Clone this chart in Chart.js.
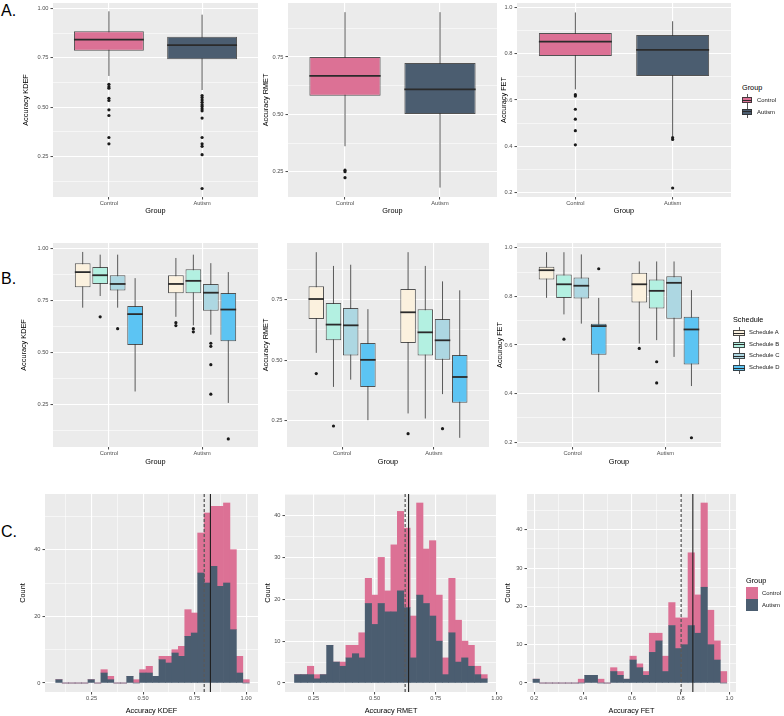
<!DOCTYPE html>
<html>
<head>
<meta charset="utf-8">
<script src="https://cdn.jsdelivr.net/npm/chart.js@4.4.1/dist/chart.umd.min.js"></script>
<style>
html,body{margin:0;padding:0;background:#fff;width:784px;height:716px;overflow:hidden;position:relative;font-family:"Liberation Sans",Arial,Helvetica,sans-serif;}
canvas{position:absolute;}
.t{position:absolute;white-space:nowrap;}
.letter{font-size:16px;line-height:16px;color:#000;}
.lt{font-size:7.3px;line-height:9px;color:#000;}
.ll{font-size:5.9px;color:#1a1a1a;}
.bk{position:absolute;}
.bk .w{position:absolute;width:1px;background:#595959;top:0;bottom:0;}
.bk .b{position:absolute;left:0;right:0;border:1px solid rgba(45,45,45,0.85);}
.bk .m{position:absolute;left:0;right:0;height:1px;background:#2b2b2b;}
.sq{position:absolute;width:12px;height:12px;}
</style>
</head>
<body>
<script>
// ---------------- DATA ----------------
const groups = ['Control', 'Autism'];
const schedules = ['Schedule A', 'Schedule B', 'Schedule C', 'Schedule D'];

// Box statistics: [lower whisker, Q1, median, Q3, upper whisker]
// Panel A (by group)
const kdefControlBox = [0.658, 0.785, 0.842, 0.884, 0.985];
const kdefAutismBox  = [0.587, 0.742, 0.814, 0.856, 0.968];
const kdefControlOut = [0.616, 0.604, 0.596, 0.545, 0.534, 0.487, 0.458, 0.347, 0.315];
const kdefAutismOut  = [0.559, 0.549, 0.537, 0.525, 0.513, 0.503, 0.492, 0.482, 0.445, 0.347, 0.315, 0.302, 0.26, 0.089];

const rmetControlBox = [0.361, 0.581, 0.668, 0.750, 0.945];
const rmetAutismBox  = [0.181, 0.501, 0.609, 0.724, 0.945];
const rmetControlOut = [0.257, 0.250, 0.224];
const rmetAutismOut  = [];

const fetControlBox = [0.646, 0.791, 0.853, 0.890, 0.979];
const fetAutismBox  = [0.443, 0.704, 0.817, 0.881, 0.941];
const fetControlOut = [0.623, 0.617, 0.560, 0.517, 0.467, 0.406];
const fetAutismOut  = [0.437, 0.429, 0.219];

// Panel B (by schedule A..D, per group)
const kdefSchedControlBox = [[0.716, 0.814, 0.887, 0.930, 0.984], [0.772, 0.830, 0.872, 0.911, 0.971], [0.716, 0.798, 0.830, 0.872, 0.971], [0.313, 0.536, 0.685, 0.724, 0.858]];
const kdefSchedAutismBox  = [[0.672, 0.785, 0.830, 0.872, 0.955], [0.631, 0.785, 0.845, 0.901, 0.971], [0.586, 0.701, 0.788, 0.830, 0.930], [0.258, 0.554, 0.707, 0.787, 0.887]];
const kdefSchedControlOut = [[], [0.672], [0.615], []];
const kdefSchedAutismOut  = [[0.644, 0.630], [0.615, 0.600], [0.545, 0.530, 0.442, 0.300], [0.085]];

const rmetSchedControlBox = [[0.530, 0.670, 0.753, 0.806, 0.947], [0.389, 0.582, 0.647, 0.736, 0.890], [0.419, 0.519, 0.644, 0.716, 0.895], [0.251, 0.389, 0.501, 0.571, 0.711]];
const rmetSchedAutismBox  = [[0.279, 0.571, 0.698, 0.794, 0.947], [0.258, 0.519, 0.615, 0.711, 0.890], [0.359, 0.501, 0.582, 0.670, 0.826], [0.178, 0.323, 0.430, 0.521, 0.789]];
const rmetSchedControlOut = [[0.444], [0.227], [], []];
const rmetSchedAutismOut  = [[0.195], [], [0.216], []];

const fetSchedControlBox = [[0.794, 0.870, 0.908, 0.922, 0.982], [0.726, 0.794, 0.850, 0.890, 0.982], [0.688, 0.791, 0.844, 0.878, 0.973], [0.406, 0.560, 0.678, 0.688, 0.794]];
const fetSchedAutismBox  = [[0.606, 0.775, 0.850, 0.897, 0.944], [0.620, 0.750, 0.823, 0.870, 0.944], [0.551, 0.708, 0.856, 0.883, 0.944], [0.431, 0.520, 0.664, 0.716, 0.826]];
const fetSchedControlOut = [[], [0.624], [], [0.914]];
const fetSchedAutismOut  = [[0.586], [0.531, 0.444], [], [0.218]];

// Panel C histograms (30 bins; first and last bin centres)
const kdefBinRange = [0.0917, 1.0];
const kdefAutismCounts  = [1,0,0,0,0,1,0,3,1,0,0,2,0,3,3,2,7,6,9,8,14,15,33,30,35,29,30,16,3,0];
const kdefControlCounts = [0,0,0,0,0,0,0,1,1,0,0,0,1,1,2,0,1,2,1,3,8,6,12,21,18,24,24,24,5,1];
const kdefMeans = {control: 0.827, autism: 0.797};

const rmetBinRange = [0.185, 0.948];
const rmetAutismCounts  = [2,2,2,1,2,9,5,4,6,7,6,19,14,19,17,17,22,18,6,21,19,16,10,2,12,5,6,4,2,1];
const rmetControlCounts = [0,0,2,1,0,0,0,1,3,2,6,6,7,11,5,16,19,19,10,22,13,18,11,4,13,10,4,5,2,1];
const rmetMeans = {control: 0.639, autism: 0.625};

const fetBinRange = [0.2078, 0.976];
const fetAutismCounts  = [1,0,0,0,0,0,0,0,2,2,0,0,3,2,1,6,4,2,8,11,3,15,9,10,15,13,25,10,6,0];
const fetControlCounts = [0,0,0,0,0,0,0,1,0,0,1,0,1,1,0,1,1,1,5,2,4,6,8,7,19,10,22,9,5,3];
const fetMeans = {control: 0.850, autism: 0.802};

// Axis ticks
const kdefTicks = [0.25, 0.50, 0.75, 1.00];
const kdefMinor = [0.125, 0.375, 0.625, 0.875];
const rmetTicks = [0.25, 0.50, 0.75, 1.00];
const rmetMinor = [0.125, 0.375, 0.625, 0.875];
const fetTicks  = [0.2, 0.4, 0.6, 0.8, 1.0];
const fetMinor  = [0.3, 0.5, 0.7, 0.9];
const countTicks20 = [0, 20, 40];
const countMinor20 = [10, 30, 50];
const countTicks10 = [0, 10, 20, 30, 40];
const countMinor10 = [5, 15, 25, 35, 45];

// ---------------- STYLE ----------------
const COL_CONTROL = '#DC7195';
const COL_AUTISM = '#4B5D70';
const SCHED_COLORS = ['#FBF1DE', '#B3F0E1', '#ADD7E2', '#5CC4F3'];
const TICK_FONT = {size: 5.7};
const TITLE_FONT = {size: 7.3};
const TICK_COLOR = '#4D4D4D';

Chart.defaults.font.family = '"Liberation Sans", Arial, Helvetica, sans-serif';

const bgPlugin = {
  id: 'panelBg',
  beforeDraw(chart) {
    const {ctx, chartArea: a} = chart;
    ctx.save();
    ctx.fillStyle = '#EBEBEB';
    ctx.fillRect(a.left, a.top, a.right - a.left, a.bottom - a.top);
    ctx.restore();
  }
};

function withTicks(major, minor, lo, hi) {
  return function (scale) {
    const t = [];
    major.forEach(v => { if (v >= lo - 1e-9 && v <= hi + 1e-9) t.push({value: v}); });
    minor.forEach(v => { if (v >= lo && v <= hi) t.push({value: v, minor: true}); });
    t.sort((a, b) => a.value - b.value);
    scale.ticks = t;
  };
}

function gridCfg() {
  return {
    color: '#FFFFFF',
    lineWidth: c => (c.tick && c.tick.minor) ? 0.55 : 1.1,
    drawTicks: true,
    tickLength: 2.5,
    tickWidth: 0.9,
    tickColor: c => (c.tick && c.tick.minor) ? 'rgba(0,0,0,0)' : '#333333',
    offset: false
  };
}

function valueAxis(opts, width) {
  return {
    type: 'linear', position: 'left', min: opts.min, max: opts.max, beginAtZero: false,
    afterBuildTicks: withTicks(opts.major, opts.minor, opts.min, opts.max),
    afterFit: s => { s.width = width; },
    grid: gridCfg(), border: {display: false},
    ticks: {autoSkip: false, padding: 2, color: TICK_COLOR, font: TICK_FONT,
      callback: (v, i, ts) => (ts[i] && ts[i].minor) ? '' : v.toFixed(opts.dec)},
    title: {display: true, text: opts.title, color: '#000', font: TITLE_FONT, padding: 0}
  };
}

function groupAxis(height) {
  return {
    type: 'linear', position: 'bottom', min: 0.4, max: 2.6, offset: false, beginAtZero: false,
    afterBuildTicks: s => { s.ticks = groups.map((g, i) => ({value: i + 1})); },
    afterFit: s => { s.height = height; },
    grid: gridCfg(), border: {display: false},
    ticks: {autoSkip: false, maxRotation: 0, minRotation: 0, padding: 0.5, color: TICK_COLOR, font: TICK_FONT,
      callback: (v, i) => groups[i]},
    title: {display: true, text: 'Group', color: '#000', font: TITLE_FONT, padding: 0}
  };
}

function numAxis(opts, height) {
  return {
    type: 'linear', position: 'bottom', min: opts.min, max: opts.max, offset: false, beginAtZero: false, stacked: true,
    afterBuildTicks: withTicks(opts.major, opts.minor, opts.min, opts.max),
    afterFit: s => { s.height = height; },
    grid: gridCfg(), border: {display: false},
    ticks: {autoSkip: false, maxRotation: 0, minRotation: 0, padding: 0.5, color: TICK_COLOR, font: TICK_FONT,
      callback: (v, i, ts) => (ts[i] && ts[i].minor) ? '' : v.toFixed(opts.dec)},
    title: {display: true, text: opts.title, color: '#000', font: TITLE_FONT, padding: 0}
  };
}

function makeCanvas(box) {
  const c = document.createElement('canvas');
  c.width = box.cr - box.cl;
  c.height = box.cb - box.ct;
  c.style.left = box.cl + 'px';
  c.style.top = box.ct + 'px';
  c.style.width = c.width + 'px';
  c.style.height = c.height + 'px';
  document.body.appendChild(c);
  return c;
}

function baseOptions(box) {
  return {
    responsive: false, animation: false, devicePixelRatio: 1, events: [],
    layout: {padding: {left: 0, top: box.pt - box.ct, right: box.cr - box.pr, bottom: 0}},
    plugins: {legend: {display: false}, tooltip: {enabled: false}}
  };
}

// series: [{colors, boxes:[perGroup], outs:[perGroup]}]
function boxChart(box, series, yOpts) {
  const S = series.length;
  const dodge = 0.75;
  const boxW = S === 1 ? 0.75 : dodge / S * 0.9;
  const pos = (s, g) => g + 1 + (S === 1 ? 0 : (s - (S - 1) / 2) * dodge / S);
  const halfW = c => {
    const x = c.chart.scales.x;
    return Math.abs(x.getPixelForValue(boxW) - x.getPixelForValue(0)) / 2;
  };
  const outDs = [], medDs = [], boxDs = [], whiDs = [];
  series.forEach((ser, s) => {
    const pts = [];
    ser.outs.forEach((arr, g) => arr.forEach(v => pts.push({x: pos(s, g), y: v})));
    outDs.push({type: 'scatter', data: pts, pointRadius: 1.6, pointBackgroundColor: '#1a1a1a', pointBorderWidth: 0, pointBorderColor: '#1a1a1a'});
    medDs.push({type: 'scatter', data: ser.boxes.map((b, g) => ({x: pos(s, g), y: b[2]})),
      pointStyle: 'line', pointRadius: halfW, pointBorderColor: '#2b2b2b', pointBackgroundColor: '#2b2b2b', pointBorderWidth: 1.8});
    boxDs.push({type: 'bar', data: ser.boxes.map((b, g) => ({x: pos(s, g), y: [b[1], b[3]]})),
      backgroundColor: ser.colors, borderColor: 'rgba(45,45,45,0.8)', borderWidth: 1, borderSkipped: false,
      grouped: false, categoryPercentage: 1, barPercentage: S === 1 ? 0.75 : 0.9});
    ser.boxes.forEach((b, g) => whiDs.push({type: 'scatter', showLine: true,
      data: [{x: pos(s, g), y: b[0]}, {x: pos(s, g), y: b[4]}], pointRadius: 0, borderColor: '#595959', borderWidth: 1}));
  });
  new Chart(makeCanvas(box), {
    type: 'bar',
    data: {datasets: [...outDs, ...medDs, ...boxDs, ...whiDs]},
    options: Object.assign(baseOptions(box), {
      scales: {x: groupAxis(box.cb - box.pb), y: valueAxis(yOpts, box.pl - box.cl)}
    }),
    plugins: [bgPlugin]
  });
}

function histChart(box, binRange, autism, control, means, xOpts, yOpts) {
  const n = autism.length;
  const w = (binRange[1] - binRange[0]) / (n - 1);
  const centers = autism.map((_, i) => binRange[0] + i * w);
  const datasets = [
    {type: 'scatter', showLine: true, stack: 'meanA', data: [{x: means.autism, y: yOpts.min}, {x: means.autism, y: yOpts.max}],
      pointRadius: 0, borderColor: '#5a5a5a', borderWidth: 1.3, borderDash: [3, 2]},
    {type: 'scatter', showLine: true, stack: 'meanC', data: [{x: means.control, y: yOpts.min}, {x: means.control, y: yOpts.max}],
      pointRadius: 0, borderColor: '#1f1f1f', borderWidth: 1.1},
    {type: 'bar', label: 'Autism', stack: 'h', data: centers.map((x, i) => ({x: x, y: autism[i]})),
      backgroundColor: COL_AUTISM, borderWidth: 0, categoryPercentage: 1, barPercentage: 1},
    {type: 'bar', label: 'Control', stack: 'h', data: centers.map((x, i) => ({x: x, y: control[i]})),
      backgroundColor: COL_CONTROL, borderWidth: 0, categoryPercentage: 1, barPercentage: 1}
  ];
  const yAx = valueAxis(yOpts, box.pl - box.cl);
  yAx.stacked = true;
  yAx.ticks.callback = (v, i, ts) => (ts[i] && ts[i].minor) ? '' : String(v);
  new Chart(makeCanvas(box), {
    type: 'bar',
    data: {datasets: datasets},
    options: Object.assign(baseOptions(box), {
      scales: {x: numAxis(xOpts, box.cb - box.pb), y: yAx}
    }),
    plugins: [bgPlugin]
  });
}

// ---------------- LAYOUT ----------------
const rowA = {ct: -6, pt: 3, pb: 197, cb: 215};
const rowB = {ct: 235, pt: 243, pb: 447, cb: 466};
const rowC = {ct: 486, pt: 494, pb: 692, cb: 715};
const P = (row, cl, pl, pr, cr) => Object.assign({cl, pl, pr, cr}, row);

const kdefY = {min: 0.046, max: 1.027, major: kdefTicks, minor: kdefMinor, dec: 2, title: 'Accuracy KDEF'};
const rmetY = {min: 0.14, max: 0.985, major: rmetTicks, minor: rmetMinor, dec: 2, title: 'Accuracy RMET'};
const fetY  = {min: 0.18, max: 1.02, major: fetTicks, minor: fetMinor, dec: 1, title: 'Accuracy FET'};

// Row A
boxChart(P(rowA, 22, 53, 258, 262), [{colors: [COL_CONTROL, COL_AUTISM], boxes: [kdefControlBox, kdefAutismBox], outs: [kdefControlOut, kdefAutismOut]}], kdefY);
boxChart(P(rowA, 262, 288, 497, 501), [{colors: [COL_CONTROL, COL_AUTISM], boxes: [rmetControlBox, rmetAutismBox], outs: [rmetControlOut, rmetAutismOut]}], rmetY);
boxChart(P(rowA, 500, 517, 731, 735), [{colors: [COL_CONTROL, COL_AUTISM], boxes: [fetControlBox, fetAutismBox], outs: [fetControlOut, fetAutismOut]}], fetY);

// Row B
function schedSeries(ctrlBox, autBox, ctrlOut, autOut) {
  return schedules.map((s, k) => ({colors: SCHED_COLORS[k], boxes: [ctrlBox[k], autBox[k]], outs: [ctrlOut[k], autOut[k]]}));
}
boxChart(P(rowB, 20, 53, 258, 262), schedSeries(kdefSchedControlBox, kdefSchedAutismBox, kdefSchedControlOut, kdefSchedAutismOut), kdefY);
boxChart(P(rowB, 262, 287, 489, 493), schedSeries(rmetSchedControlBox, rmetSchedAutismBox, rmetSchedControlOut, rmetSchedAutismOut), rmetY);
boxChart(P(rowB, 496, 517, 721, 725), schedSeries(fetSchedControlBox, fetSchedAutismBox, fetSchedControlOut, fetSchedAutismOut), fetY);

// Row C
histChart(P(rowC, 19, 45, 258, 262), kdefBinRange, kdefAutismCounts, kdefControlCounts, kdefMeans,
  {min: 0.024, max: 1.058, major: kdefTicks, minor: kdefMinor, dec: 2, title: 'Accuracy KDEF'},
  {min: -2.7, max: 56.7, major: countTicks20, minor: countMinor20, dec: 0, title: 'Count'});
histChart(P(rowC, 264, 285, 497, 505), rmetBinRange, rmetAutismCounts, rmetControlCounts, rmetMeans,
  {min: 0.133, max: 1.001, major: rmetTicks, minor: rmetMinor, dec: 2, title: 'Accuracy RMET'},
  {min: -2.15, max: 45.15, major: countTicks10, minor: countMinor10, dec: 0, title: 'Count'});
histChart(P(rowC, 504, 527, 736, 742), fetBinRange, fetAutismCounts, fetControlCounts, fetMeans,
  {min: 0.17, max: 1.027, major: fetTicks, minor: fetMinor, dec: 1, title: 'Accuracy FET'},
  {min: -2.35, max: 49.35, major: countTicks10, minor: countMinor10, dec: 0, title: 'Count'});

// ---------------- TEXT / LEGENDS ----------------
function addText(cls, text, left, top, extra) {
  const d = document.createElement('div');
  d.className = 't ' + cls;
  d.textContent = text;
  d.style.left = left + 'px';
  d.style.top = top + 'px';
  if (extra) Object.assign(d.style, extra);
  document.body.appendChild(d);
  return d;
}
function boxKey(left, top, w, h, color) {
  const k = document.createElement('div');
  k.className = 'bk';
  Object.assign(k.style, {left: left + 'px', top: top + 'px', width: w + 'px', height: h + 'px'});
  const wl = document.createElement('div'); wl.className = 'w'; wl.style.left = (w / 2 - 0.5) + 'px';
  const b = document.createElement('div'); b.className = 'b';
  Object.assign(b.style, {top: Math.round(h * 0.25) + 'px', height: (Math.round(h * 0.5) - 2) + 'px', background: color});
  const m = document.createElement('div'); m.className = 'm'; m.style.top = (Math.round(h / 2) - 0.5) + 'px';
  k.appendChild(wl); k.appendChild(b); k.appendChild(m);
  document.body.appendChild(k);
}

addText('letter', 'A.', 1, 2.5);
addText('letter', 'B.', 1, 270.5);
addText('letter', 'C.', 1, 524);

// Legend A
addText('lt', 'Group', 742, 82.5);
[[COL_CONTROL, 94], [COL_AUTISM, 105.5]].forEach((e, i) => {
  boxKey(742, e[1], 10, 12, e[0]);
  addText('ll', groups[i], 757, e[1], {lineHeight: '12px'});
});

// Legend B
addText('lt', 'Schedule', 733, 314.5);
[327, 338.5, 350, 362].forEach((top, i) => {
  boxKey(733, top, 12, 11.5, SCHED_COLORS[i]);
  addText('ll', schedules[i], 749, top, {lineHeight: '11.5px'});
});

// Legend C
addText('lt', 'Group', 746, 576);
[[COL_CONTROL, 587], [COL_AUTISM, 599]].forEach((e, i) => {
  const s = document.createElement('div');
  s.className = 'sq';
  Object.assign(s.style, {left: '746px', top: e[1] + 'px', background: e[0]});
  document.body.appendChild(s);
  addText('ll', groups[i], 762, e[1], {lineHeight: '12px'});
});
</script>
</body>
</html>
